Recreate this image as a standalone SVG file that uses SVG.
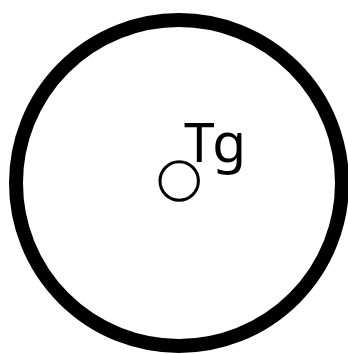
<svg xmlns="http://www.w3.org/2000/svg" width="348" height="354" viewBox="0 0 348 354">
<style>
.ring{fill:none;stroke:#000;stroke-width:14}
.dot{fill:none;stroke:#000;stroke-width:3}
.lbl{font-family:"Noto Sans","DejaVu Sans",sans-serif;font-size:55px;fill:#000;letter-spacing:1.5px}
</style>
<rect width="348" height="354" fill="#fff"/>
<g id="outer"><circle class="ring" cx="179" cy="183" r="163"/></g>
<g id="center"><circle class="dot" cx="179.2" cy="181" r="19.2"/></g>
<g id="label"><text class="lbl" x="184" y="161.5">Tg</text></g>
<g id="connectors"></g>
</svg>
